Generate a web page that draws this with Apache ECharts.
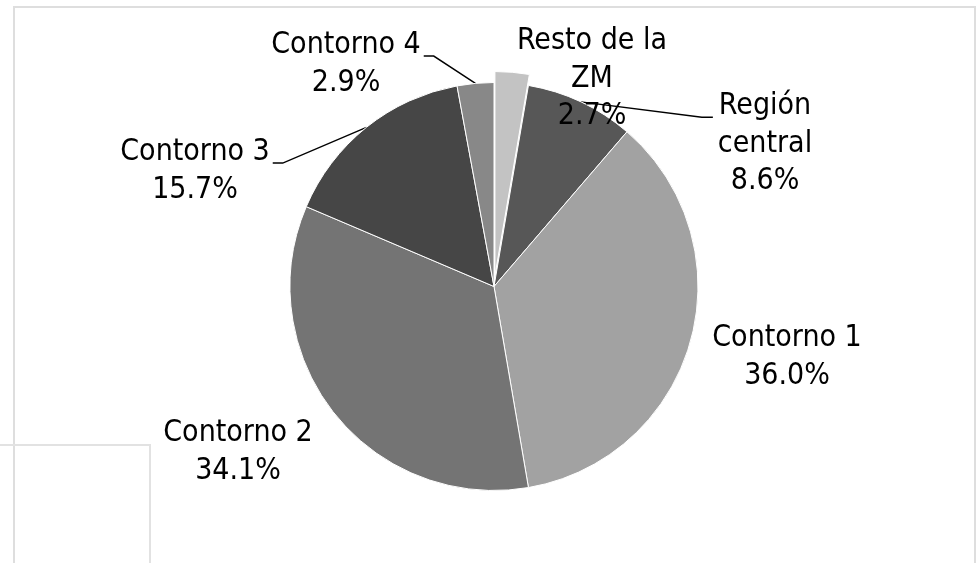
<!DOCTYPE html>
<html>
<head>
<meta charset="utf-8">
<script src="https://cdn.jsdelivr.net/npm/echarts@6/dist/echarts.min.js"></script>
<style>
html,body{margin:0;padding:0;background:#ffffff;}
#c{width:978px;height:563px;}
</style>
</head>
<body>
<div id="c"></div>
<script>
// ---- data ----
var categories = ['Resto de la ZM', 'Región central', 'Contorno 1', 'Contorno 2', 'Contorno 3', 'Contorno 4'];
var labelNames = ['Resto de la\nZM', 'Región\ncentral', 'Contorno 1', 'Contorno 2', 'Contorno 3', 'Contorno 4'];
var values = [2.7, 8.6, 36.0, 34.1, 15.7, 2.9];

// ---- styles / layout ----
var colors = ['#c3c3c3', '#575757', '#a2a2a2', '#747474', '#464646', '#888888'];
var exploded = [true, false, false, false, false, false];
var hasLeader = [false, true, false, false, true, true];
// label block centers (pixels)
var labelPos = [[592, 79], [765, 144], [787, 357], [238, 452], [195, 171], [346, 64]];
var FONT = "'DejaVu Sans Condensed', 'Liberation Sans', Arial, sans-serif";
var FS = 30, LH = 37.5;

function labelText(i) {
  return labelNames[i] + '\n' + values[i].toFixed(1) + '%';
}

var chart = echarts.init(document.getElementById('c'), null, {renderer: 'canvas'});

var seriesData = categories.map(function (name, i) {
  return {
    name: name,
    value: values[i],
    selected: exploded[i],
    itemStyle: {color: colors[i]},
    select: {itemStyle: {color: colors[i], borderColor: '#ffffff', borderWidth: 1}},
    // the exploded slice's label is drawn as a separate text element (see graphic)
    label: {show: !exploded[i]},
    labelLine: {show: hasLeader[i]}
  };
});

function itemLayout(i) {
  var data = chart.getModel().getSeriesByIndex(0).getData();
  return data.getItemLayout(i);
}

var graphics = [
  {type: 'rect', z: -10, silent: true,
   shape: {x: 14, y: 7, width: 961, height: 620},
   style: {fill: 'none', stroke: '#dedede', lineWidth: 2}},
  {type: 'polyline', z: -10, silent: true,
   shape: {points: [[0, 445], [150, 445], [150, 570]]},
   style: {fill: 'none', stroke: '#e2e2e2', lineWidth: 2}}
];
exploded.forEach(function (e, i) {
  if (e) {
    graphics.push({
      type: 'text', z: 10, silent: true,
      x: labelPos[i][0], y: labelPos[i][1],
      style: {
        text: labelText(i), fill: '#000000',
        fontFamily: FONT, fontSize: FS, lineHeight: LH,
        align: 'center', verticalAlign: 'middle'
      }
    });
  }
});

var option = {
  backgroundColor: '#ffffff',
  animation: false,
  graphic: graphics,
  series: [{
    type: 'pie',
    center: [494, 286.5],
    radius: 204,
    startAngle: 90,
    clockwise: true,
    selectedMode: 'single',
    selectedOffset: 11,
    avoidLabelOverlap: false,
    emphasis: {disabled: true},
    itemStyle: {borderColor: '#ffffff', borderWidth: 1},
    label: {
      show: true,
      position: 'outside',
      color: '#000000',
      fontFamily: FONT,
      fontSize: FS,
      lineHeight: LH,
      align: 'center',
      formatter: function (p) { return labelText(p.dataIndex); }
    },
    labelLine: {show: true, lineStyle: {color: '#000000', width: 1.4}, length: 10, length2: 10},
    labelLayout: function (params) {
      var i = params.dataIndex;
      var pos = labelPos[i];
      var res = {x: pos[0], y: pos[1], align: 'center', verticalAlign: 'middle'};
      if (hasLeader[i]) {
        var L = itemLayout(i);
        var mid = (L.startAngle + L.endAngle) / 2;
        var ex = L.cx + L.r * Math.cos(mid);
        var ey = L.cy + L.r * Math.sin(mid);
        var w = params.labelRect.width;
        var h = params.labelRect.height;
        var top = pos[1] - h / 2;
        var baseY = top + LH / 2 + FS * 0.36;
        var endX, elbowX;
        if (ex > pos[0]) {
          endX = pos[0] + w / 2 + 3;
          elbowX = endX + 10;
        } else {
          endX = pos[0] - w / 2 - 5;
          elbowX = endX - 11;
        }
        res.labelLinePoints = [[ex, ey], [elbowX, baseY], [endX, baseY]];
      }
      return res;
    },
    data: seriesData
  }]
};

chart.setOption(option);
</script>
</body>
</html>
